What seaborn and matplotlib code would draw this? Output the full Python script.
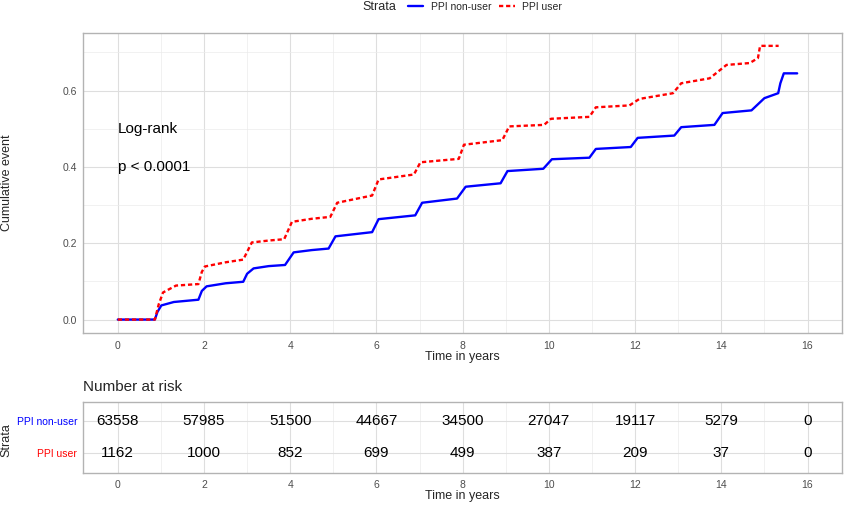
import numpy as np
import pandas as pd
import matplotlib
matplotlib.use("Agg")
import matplotlib.pyplot as plt
from matplotlib.lines import Line2D
import seaborn as sns

# ---------------- data ----------------
strata = ["PPI non-user", "PPI user"]

nonuser_t = [0, 0.86, 0.92, 1.01, 1.3, 1.87, 1.95, 2.06, 2.5, 2.91, 3.0, 3.15, 3.5, 3.88,
             4.08, 4.5, 4.89, 5.05, 5.9, 6.05, 6.9, 7.06, 7.87, 8.07, 8.88, 9.04, 9.87,
             10.07, 10.94, 11.09, 11.9, 12.06, 12.91, 13.07, 13.84, 14.03, 14.7, 15.0,
             15.32, 15.37, 15.45, 15.76]
nonuser_y = [0, 0, 0.02, 0.037, 0.046, 0.052, 0.075, 0.087, 0.095, 0.099, 0.12, 0.134, 0.140,
             0.143, 0.176, 0.182, 0.186, 0.218, 0.229, 0.263, 0.273, 0.306, 0.317, 0.348,
             0.357, 0.389, 0.395, 0.420, 0.424, 0.447, 0.452, 0.476, 0.482, 0.504, 0.510,
             0.541, 0.548, 0.580, 0.593, 0.619, 0.645, 0.645]

user_t = [0, 0.86, 0.95, 1.05, 1.35, 1.87, 1.95, 2.02, 2.5, 2.91, 3.11, 3.5, 3.86, 4.04,
          4.5, 4.93, 5.09, 5.9, 6.05, 6.87, 7.02, 7.91, 8.03, 8.92, 9.08, 9.89, 10.05,
          10.94, 11.09, 11.87, 12.1, 12.88, 13.07, 13.73, 14.12, 14.66, 14.85, 14.9, 15.33]
user_y = [0, 0, 0.04, 0.071, 0.089, 0.093, 0.125, 0.139, 0.150, 0.157, 0.202, 0.207, 0.2105,
          0.256, 0.264, 0.269, 0.306, 0.325, 0.367, 0.380, 0.412, 0.421, 0.458, 0.470,
          0.506, 0.510, 0.526, 0.531, 0.556, 0.561, 0.578, 0.593, 0.619, 0.632, 0.667,
          0.672, 0.685, 0.717, 0.717]

risk_times = [0, 2, 4, 6, 8, 10, 12, 14, 16]
risk_nonuser = [63558, 57985, 51500, 44667, 34500, 27047, 19117, 5279, 0]
risk_user = [1162, 1000, 852, 699, 499, 387, 209, 37, 0]

x_ticks = [0, 2, 4, 6, 8, 10, 12, 14, 16]
y_ticks = [0.0, 0.2, 0.4, 0.6]

colors = {"PPI non-user": "#0000FF", "PPI user": "#FF0000"}

# ---------------- style ----------------
sns.set_theme(style="white")
plt.rcParams["font.family"] = ["Liberation Sans", "DejaVu Sans"]

W, H = 844, 505
fig = plt.figure(figsize=(W / 100, H / 100), dpi=100)

def px_x(x):
    return x / W

def px_y(y):
    return 1 - y / H

L, R = 83.3, 842.0
ax = fig.add_axes([px_x(L), px_y(333.3), px_x(R) - px_x(L), px_y(32.5) - px_y(333.3)])
ax2 = fig.add_axes([px_x(L), px_y(472.7), px_x(R) - px_x(L), px_y(401.7) - px_y(472.7)])

df = pd.concat([
    pd.DataFrame({"t": nonuser_t, "y": nonuser_y, "strata": strata[0]}),
    pd.DataFrame({"t": user_t, "y": user_y, "strata": strata[1]}),
], ignore_index=True)

sns.lineplot(data=df, x="t", y="y", hue="strata", style="strata",
             palette=colors, dashes={"PPI non-user": "", "PPI user": (1.8, 1.2)},
             sort=False, estimator=None, linewidth=1.7, ax=ax, legend=False)

grid_major = "#DEDEDE"
grid_minor = "#EBEBEB"
border = "#B3B3B3"
tick_col = "#4D4D4D"

for a in (ax, ax2):
    a.set_xlim(-0.8, 16.8)
    a.set_xticks(x_ticks)
    a.set_xticks([1, 3, 5, 7, 9, 11, 13, 15], minor=True)
    a.grid(True, which="major", color=grid_major, linewidth=0.8)
    a.set_axisbelow(True)
    for s in a.spines.values():
        s.set_color(border)
        s.set_linewidth(1.0)
    a.tick_params(axis="both", which="major", length=2.5, width=0.8, color=border,
                  labelsize=7.5, labelcolor=tick_col, pad=2.0)
    a.tick_params(axis="both", which="minor", length=0)
    a.set_xlabel("")
    a.set_ylabel("")

ax.grid(True, which="minor", color=grid_minor, linewidth=0.5)
ax.set_ylim(-0.036, 0.752)
ax.set_yticks(y_ticks)
ax.set_yticklabels([f"{v:.1f}" for v in y_ticks])
ax.set_yticks([0.1, 0.3, 0.5, 0.7], minor=True)
ax.tick_params(axis="x", which="major", pad=3.2)

ax.text(0, 0.5, "Log-rank", fontsize=11, ha="left", va="center", color="black")
ax.text(0, 0.4, "p < 0.0001", fontsize=11, ha="left", va="center", color="black")

# risk table
ax2.grid(True, which="minor", axis="x", color=grid_minor, linewidth=0.5)
ax2.set_ylim(0.4, 2.6)
ax2.set_yticks([2, 1])
ax2.set_yticklabels(strata)
for lab, s in zip(ax2.get_yticklabels(), strata):
    lab.set_color(colors[s])
    lab.set_fontsize(7.5)
ax2.tick_params(axis="x", which="major", pad=3.0)
for t, n in zip(risk_times, risk_nonuser):
    ax2.text(t, 2, str(n), fontsize=11, ha="center", va="center", color="black")
for t, n in zip(risk_times, risk_user):
    ax2.text(t, 1, str(n), fontsize=11, ha="center", va="center", color="black")

# titles/labels
fig.text(px_x(462.5), px_y(357), "Time in years", fontsize=9, ha="center", va="center")
fig.text(px_x(462.5), px_y(496), "Time in years", fontsize=9, ha="center", va="center")
fig.text(px_x(6.7), px_y(183), "Cumulative event", fontsize=9, rotation=90,
         ha="center", va="center")
fig.text(px_x(6.7), px_y(440), "Strata", fontsize=9, rotation=90,
         ha="center", va="center")
fig.text(px_x(83.3), px_y(387), "Number at risk", fontsize=11, ha="left", va="center")

# legend
fig.text(px_x(362), px_y(7), "Strata", fontsize=9, ha="left", va="center")
handles = [Line2D([0], [0], color=colors[strata[0]], lw=1.7),
           Line2D([0], [0], color=colors[strata[1]], lw=1.7, dashes=(1.8, 1.2))]
fig.legend(handles, strata, loc="center", bbox_to_anchor=(px_x(485), px_y(7)),
           ncol=2, frameon=False, fontsize=7.5, handlelength=1.5, handletextpad=0.7,
           columnspacing=0.8, borderpad=0, borderaxespad=0)

fig.savefig("out.png", dpi=100)
